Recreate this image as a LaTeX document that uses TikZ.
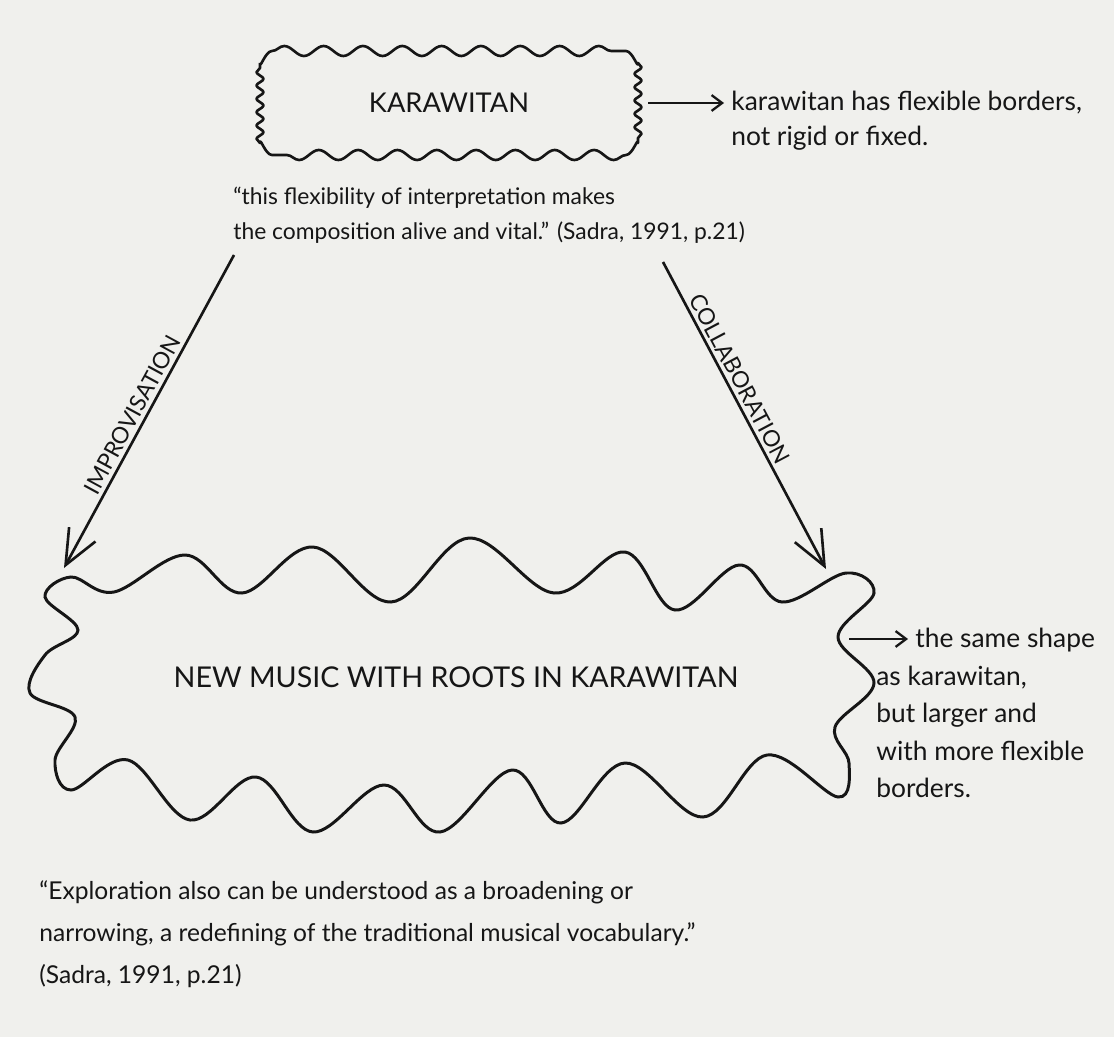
\documentclass[tikz,border=0pt]{standalone}
\usepackage{fontspec}
\setmainfont{Lato}
\usepackage{tikz}
\usetikzlibrary{arrows.meta, positioning, decorations.pathmorphing, calc}
\definecolor{paper}{RGB}{240, 240, 237}
\definecolor{ink}{RGB}{22, 22, 22}

\begin{document}
\begin{tikzpicture}[
  x=0.02cm, y=-0.02cm,
  boxline/.style={draw=ink, line width=1.5pt, line join=round},
  longwave/.style={decoration={snake, segment length=0.7867cm, amplitude=0.1cm}},
  shortwave/.style={decoration={snake, segment length=0.2667cm, amplitude=0.07cm}},
  cloud/.style={draw=ink, line width=1.7pt},
  note/.style={align=left, anchor=north west, inner sep=0pt, text=ink},
  tag/.style={font=\fontsize{13}{15}\selectfont, text=ink, inner sep=2pt},
  notearrow/.style={draw=ink, line width=1.3pt, -{Straight Barb[length=6pt, width=9pt]}},
  bigarrow/.style={draw=ink, line width=1.5pt, -{Straight Barb[length=0.7cm, width=0.6cm]}},
]
  \fill[paper] (0,0) rectangle (1114,1037);
  \useasboundingbox (0,0) rectangle (1114,1037);

  % the tradition
  \node[minimum width=7.56cm, minimum height=2.08cm, text=ink,
        font=\fontsize{15.5}{17}\selectfont] (karawitan) at (449,103) {KARAWITAN};
  \draw[boxline] (260,63) to[out=-90,in=180] (272,51)
    decorate[longwave] {-- (626,51)} to[out=0,in=-90] (638,63)
    decorate[shortwave] {-- (638,143)} to[out=90,in=0] (626,155)
    decorate[longwave] {-- (272,155)} to[out=180,in=90] (260,143)
    decorate[shortwave] {-- (260,63)};
  \coordinate (flexpt) at (724,103);
  \draw[notearrow] ([xshift=0.2cm]karawitan.east) -- (flexpt);
  \node[note, font=\fontsize{15}{20}\selectfont] (flexnote) at (731,91)
    {karawitan has flexible borders,\\ not rigid or fixed.};

  \node[note, font=\fontsize{13}{20}\selectfont] (quote) at (233,187)
    {“this flexibility of interpretation makes\\
     the composition alive and vital.” (Sadra, 1991, p.21)};

  % the new music
  \draw[cloud] plot[smooth cycle, tension=0.6] coordinates {
    (71,577) (114,592) (185,555) (242,593) (313,547) (391,602) (469,538)
    (554,593) (625,552) (675,610) (739,565) (782,602) (846,573)
    (874,593) (838,637) (874,683) (835,727) (849,763) (838,797)
    (767,755) (703,817) (625,763) (561,823) (512,770) (440,832)
    (384,785) (313,832) (256,777) (190,820) (128,760) (71,790)
    (55,760) (75,717) (30,693) (45,655) (78,630) (45,597)};
  \node[text=ink, font=\fontsize{16.3}{18}\selectfont] (newmusic) at (456,677)
    {NEW MUSIC WITH ROOTS IN KARAWITAN};

  \coordinate (impstart) at (234,255);
  \coordinate (impend) at (64,568);
  \coordinate (colstart) at (663,262);
  \coordinate (colend) at (826,569);
  \draw[bigarrow] (impstart) -- node[tag, sloped, above, pos=0.53] {IMPROVISATION} (impend);
  \draw[bigarrow] (colstart) -- node[tag, sloped, above, pos=0.40] {COLLABORATION} (colend);

  \coordinate (cloudpt) at (849,639);
  \coordinate (shapept) at (908,639);
  \draw[notearrow] (cloudpt) -- (shapept);
  \node[note, font=\fontsize{15}{21.3}\selectfont] (shapenote) at (876,628)
    {\hspace*{0.78cm}the same shape\\ as karawitan,\\ but larger and\\ with more flexible\\ borders.};

  \node[note, font=\fontsize{14}{24}\selectfont] (explore) at (39,880)
    {“Exploration also can be understood as a broadening or\\
     narrowing, a redefining of the traditional musical vocabulary.”\\
     (Sadra, 1991, p.21)};
\end{tikzpicture}
\end{document}
